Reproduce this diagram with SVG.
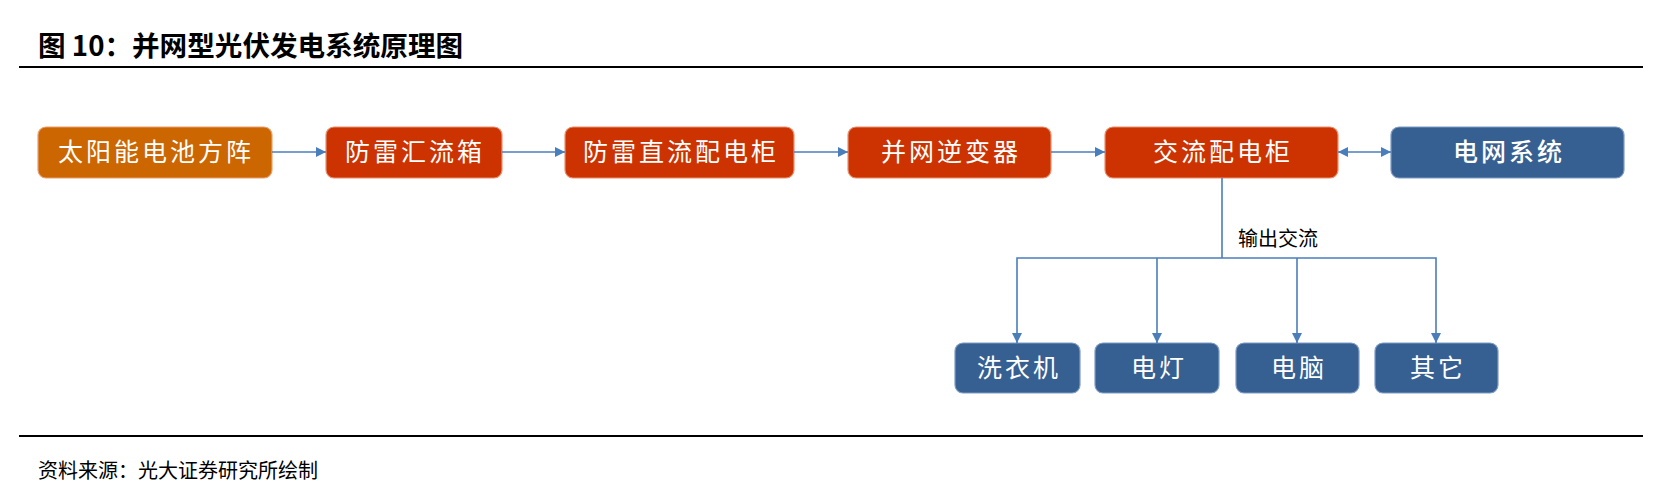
<svg xmlns="http://www.w3.org/2000/svg" width="1677" height="496" viewBox="0 0 1677 496">
<defs>
<marker id="ah" viewBox="0 0 10 10" refX="10" refY="5" markerWidth="10" markerHeight="10" markerUnits="userSpaceOnUse" orient="auto-start-reverse">
<path d="M0,0 L10,5 L0,10 z" fill="#4A7EBB"/>
</marker>
<style>
.t{font-family:"Noto Sans CJK SC","Liberation Sans",sans-serif}
.bx{stroke-width:1.2}
.org{fill:#CC6600;stroke:#E8A070}
.red{fill:#CC3300;stroke:#E89070}
.blu{fill:#376092;stroke:#7F9CC4}
.lbl{font-family:"Noto Sans CJK SC","Liberation Sans",sans-serif;font-size:25px;fill:#FFFFFF;text-anchor:middle;letter-spacing:3px}
.c{fill:none;stroke:#4A7EBB;stroke-width:1.6}
</style>
</defs>
<rect width="1677" height="496" fill="#FFFFFF"/>
<text class="t" x="38" y="56" font-size="27.6" font-weight="bold" fill="#000">图 10：并网型光伏发电系统原理图</text>
<line x1="19" y1="67" x2="1643" y2="67" stroke="#000" stroke-width="2"/>
<g id="n1"><rect class="bx org" x="38" y="127" width="234" height="51" rx="8"/><text class="lbl" x="156" y="161">太阳能电池方阵</text></g>
<g id="n2"><rect class="bx red" x="326" y="127" width="176" height="51" rx="8"/><text class="lbl" x="415" y="161">防雷汇流箱</text></g>
<g id="n3"><rect class="bx red" x="565" y="127" width="229" height="51" rx="8"/><text class="lbl" x="681" y="161">防雷直流配电柜</text></g>
<g id="n4"><rect class="bx red" x="848" y="127" width="203" height="51" rx="8"/><text class="lbl" x="951" y="161">并网逆变器</text></g>
<g id="n5"><rect class="bx red" x="1105" y="127" width="233" height="51" rx="8"/><text class="lbl" x="1223" y="161">交流配电柜</text></g>
<g id="n6"><rect class="bx blu" x="1391" y="127" width="233" height="51" rx="8"/><text class="lbl" x="1509" y="161" font-weight="500">电网系统</text></g>
<g id="n7"><rect class="bx blu" x="955" y="343" width="125" height="50" rx="8"/><text class="lbl" x="1019" y="377">洗衣机</text></g>
<g id="n8"><rect class="bx blu" x="1095" y="343" width="124" height="50" rx="8"/><text class="lbl" x="1159" y="377">电灯</text></g>
<g id="n9"><rect class="bx blu" x="1236" y="343" width="123" height="50" rx="8"/><text class="lbl" x="1299" y="377">电脑</text></g>
<g id="n10"><rect class="bx blu" x="1375" y="343" width="123" height="50" rx="8"/><text class="lbl" x="1438" y="377">其它</text></g>
<g id="connectors">
<line class="c" x1="272" y1="152" x2="326" y2="152" marker-end="url(#ah)"/>
<line class="c" x1="502" y1="152" x2="565" y2="152" marker-end="url(#ah)"/>
<line class="c" x1="794" y1="152" x2="848" y2="152" marker-end="url(#ah)"/>
<line class="c" x1="1051" y1="152" x2="1105" y2="152" marker-end="url(#ah)"/>
<line class="c" x1="1338" y1="152" x2="1391" y2="152" marker-start="url(#ah)" marker-end="url(#ah)"/>
<polyline class="c" points="1222,178 1222,258"/>
<polyline class="c" points="1017,343 1017,258 1436,258 1436,343" marker-start="url(#ah)" marker-end="url(#ah)"/>
<line class="c" x1="1157" y1="258" x2="1157" y2="343" marker-end="url(#ah)"/>
<line class="c" x1="1297" y1="258" x2="1297" y2="343" marker-end="url(#ah)"/>
<text class="t" x="1238" y="246" font-size="20" fill="#000">输出交流</text>
</g>
<line x1="19" y1="436" x2="1643" y2="436" stroke="#000" stroke-width="2"/>
<text class="t" x="38" y="478" font-size="20" fill="#000">资料来源：光大证券研究所绘制</text>
</svg>
